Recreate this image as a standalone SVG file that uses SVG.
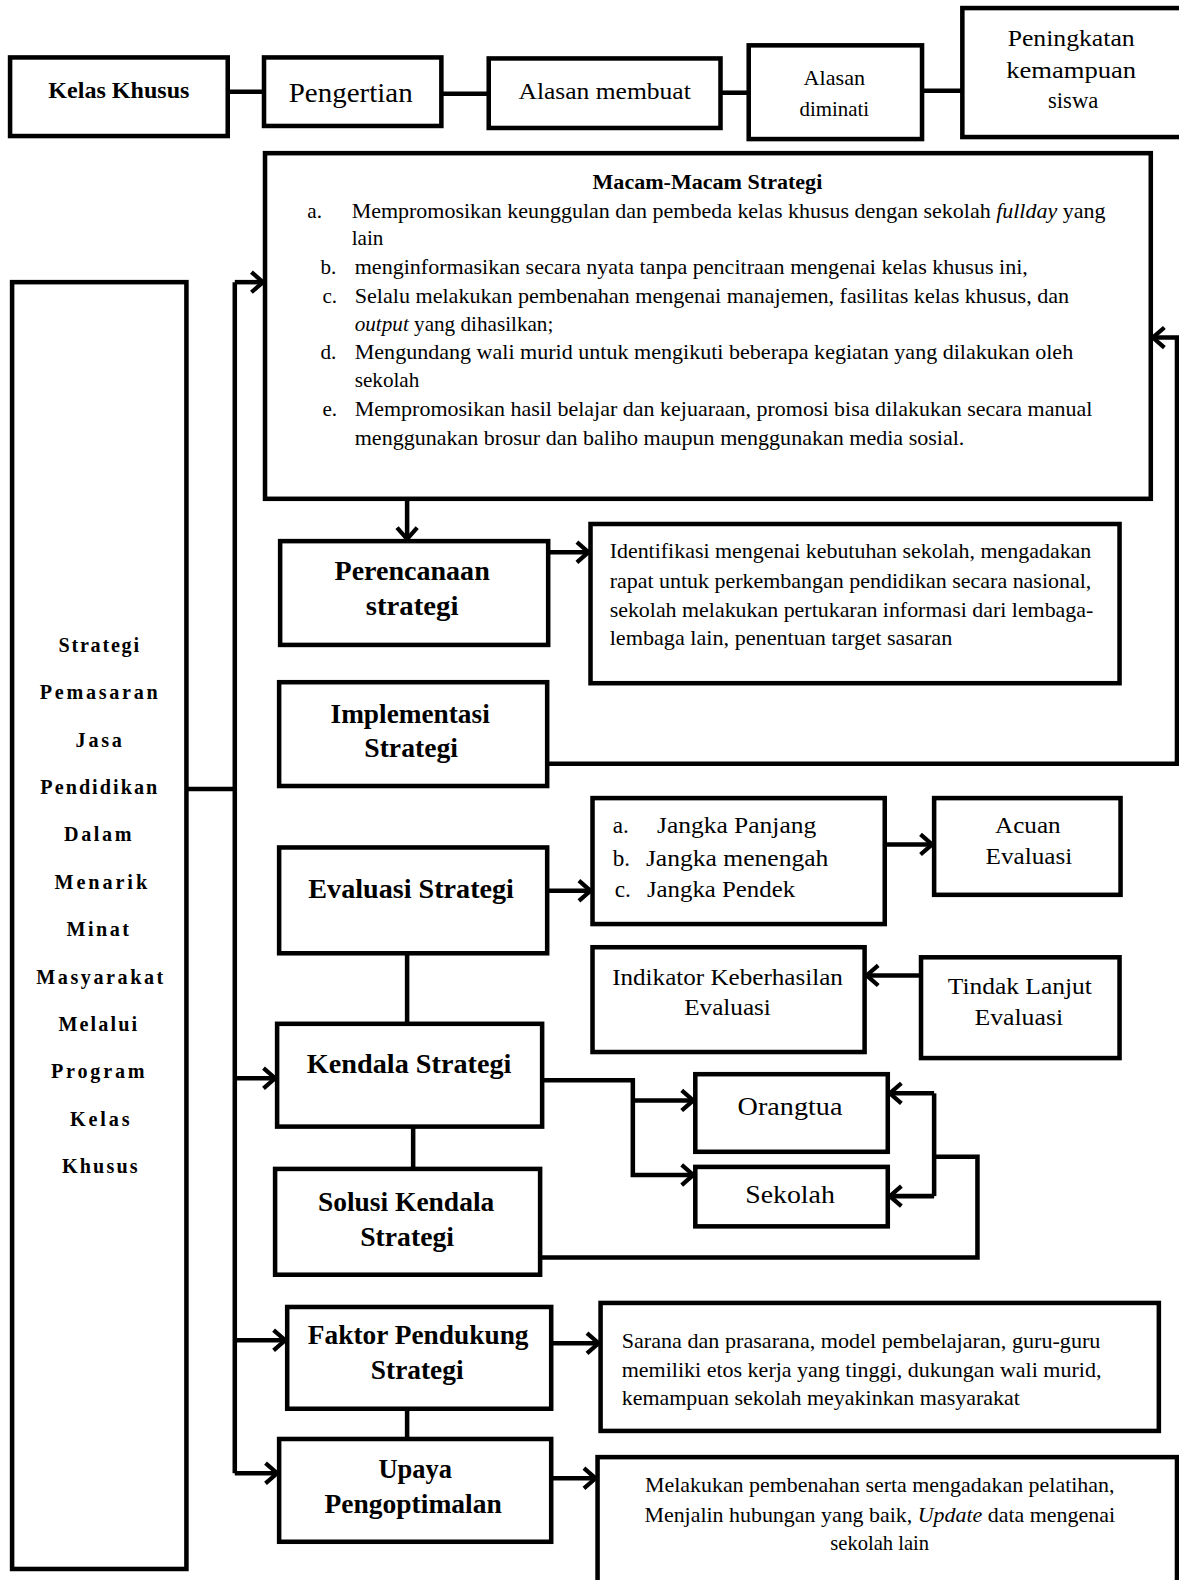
<svg xmlns="http://www.w3.org/2000/svg" width="1179" height="1580" viewBox="0 0 1179 1580">
<style>
.box{fill:#fff;stroke:#000;stroke-width:4.5}
.ln{fill:none;stroke:#000;stroke-width:4.5}
.t{font-family:"Liberation Serif","Times New Roman",serif;fill:#000}
.b{font-weight:bold}
.c{text-anchor:middle}
</style>
<defs>
<marker id="ah" markerWidth="18" markerHeight="24" refX="14" refY="12" orient="auto" markerUnits="userSpaceOnUse">
<path d="M2.5,2 L14,12 L2.5,22" fill="none" stroke="#000" stroke-width="4.2"/>
</marker>
</defs>
<rect width="1179" height="1580" fill="#fff"/>
<g transform="scale(1.00769)">
<g id="connectors">
<path class="ln" d="M226,91 H262"/>
<path class="ln" d="M438,93 H485"/>
<path class="ln" d="M715,92 H743"/>
<path class="ln" d="M915,90 H955"/>
<path class="ln" d="M185,783 H233"/>
<path class="ln" d="M233,1462 V280"/>
<path class="ln" d="M233,280 H261" marker-end="url(#ah)"/>
<path class="ln" d="M233,1070 H273" marker-end="url(#ah)"/>
<path class="ln" d="M233,1330 H283" marker-end="url(#ah)"/>
<path class="ln" d="M233,1462 H275" marker-end="url(#ah)"/>
<path class="ln" d="M404,495 V535" marker-end="url(#ah)"/>
<path class="ln" d="M544,548 H584" marker-end="url(#ah)"/>
<path class="ln" d="M543,758 H1168 V335 H1144" marker-end="url(#ah)"/>
<path class="ln" d="M543,884 H586" marker-end="url(#ah)"/>
<path class="ln" d="M878,838 H925" marker-end="url(#ah)"/>
<path class="ln" d="M914,968 H860" marker-end="url(#ah)"/>
<path class="ln" d="M404,946 V1016"/>
<path class="ln" d="M538,1072 H628 V1166 H688" marker-end="url(#ah)"/>
<path class="ln" d="M628,1092 H688" marker-end="url(#ah)"/>
<path class="ln" d="M410,1118 V1160"/>
<path class="ln" d="M536,1248 H970 V1148 H927"/>
<path class="ln" d="M927,1085 V1187"/>
<path class="ln" d="M927,1085 H883" marker-end="url(#ah)"/>
<path class="ln" d="M927,1187 H883" marker-end="url(#ah)"/>
<path class="ln" d="M547,1333 H594" marker-end="url(#ah)"/>
<path class="ln" d="M404,1398 V1428"/>
<path class="ln" d="M547,1467 H591" marker-end="url(#ah)"/>
</g>

<g id="kelas-khusus">
<rect class="box" x="10" y="57" width="216" height="78"/>
<text class="t b c" x="118" y="97" font-size="23" textLength="140" lengthAdjust="spacingAndGlyphs">Kelas Khusus</text>
</g>
<g id="pengertian">
<rect class="box" x="262" y="57" width="176" height="68"/>
<text class="t c" x="348" y="101" font-size="28" textLength="123" lengthAdjust="spacingAndGlyphs">Pengertian</text>
</g>
<g id="alasan-membuat">
<rect class="box" x="485" y="58" width="230" height="69"/>
<text class="t c" x="600" y="98" font-size="23" textLength="171" lengthAdjust="spacingAndGlyphs">Alasan membuat</text>
</g>
<g id="alasan-diminati">
<rect class="box" x="743" y="45" width="172" height="93"/>
<text class="t c" x="828" y="84" font-size="21" textLength="61" lengthAdjust="spacingAndGlyphs">Alasan</text>
<text class="t c" x="828" y="115" font-size="21" textLength="69" lengthAdjust="spacingAndGlyphs">diminati</text>
</g>
<g id="peningkatan">
<rect class="box" x="955" y="8" width="235" height="128"/>
<text class="t c" x="1063" y="46" font-size="23" textLength="126" lengthAdjust="spacingAndGlyphs">Peningkatan</text>
<text class="t c" x="1063" y="77" font-size="23" textLength="129" lengthAdjust="spacingAndGlyphs">kemampuan</text>
<text class="t c" x="1065" y="107" font-size="23" textLength="50" lengthAdjust="spacingAndGlyphs">siswa</text>
</g>

<g id="macam-strategi">
<rect class="box" x="263" y="152" width="879" height="343"/>
<text class="t b c" x="702" y="188" font-size="21" textLength="228" lengthAdjust="spacingAndGlyphs">Macam-Macam Strategi</text>
<g class="t" font-size="21">
<text x="305" y="216">a.</text>
<text x="349" y="216" textLength="748" lengthAdjust="spacingAndGlyphs">Mempromosikan keunggulan dan pembeda kelas khusus dengan sekolah <tspan font-style="italic">fullday</tspan> yang</text>
<text x="349" y="243">lain</text>
<text x="318" y="272">b.</text>
<text x="352" y="272" textLength="668" lengthAdjust="spacingAndGlyphs">menginformasikan secara nyata tanpa pencitraan mengenai kelas khusus ini,</text>
<text x="320" y="301">c.</text>
<text x="352" y="301" textLength="709" lengthAdjust="spacingAndGlyphs">Selalu melakukan pembenahan mengenai manajemen, fasilitas kelas khusus, dan</text>
<text x="352" y="328"><tspan font-style="italic">output</tspan> yang dihasilkan;</text>
<text x="318" y="356">d.</text>
<text x="352" y="356" textLength="713" lengthAdjust="spacingAndGlyphs">Mengundang wali murid untuk mengikuti beberapa kegiatan yang dilakukan oleh</text>
<text x="352" y="384">sekolah</text>
<text x="320" y="413">e.</text>
<text x="352" y="413" textLength="732" lengthAdjust="spacingAndGlyphs">Mempromosikan hasil belajar dan kejuaraan, promosi bisa dilakukan secara manual</text>
<text x="352" y="442" textLength="605" lengthAdjust="spacingAndGlyphs">menggunakan brosur dan baliho maupun menggunakan media sosial.</text>
</g>
</g>

<g id="strategi-pemasaran">
<rect class="box" x="12" y="280" width="173" height="1277"/>
<g class="t b c" font-size="20">
<text x="98" y="647" textLength="80" lengthAdjust="spacing">Strategi</text>
<text x="98" y="694" textLength="117" lengthAdjust="spacing">Pemasaran</text>
<text x="98" y="741" textLength="46" lengthAdjust="spacing">Jasa</text>
<text x="98" y="788" textLength="116" lengthAdjust="spacing">Pendidikan</text>
<text x="97" y="835" textLength="67" lengthAdjust="spacing">Dalam</text>
<text x="100" y="882" textLength="92" lengthAdjust="spacing">Menarik</text>
<text x="97" y="929" textLength="62" lengthAdjust="spacing">Minat</text>
<text x="99" y="976" textLength="126" lengthAdjust="spacing">Masyarakat</text>
<text x="97" y="1023" textLength="78" lengthAdjust="spacing">Melalui</text>
<text x="97" y="1070" textLength="93" lengthAdjust="spacing">Program</text>
<text x="99" y="1117" textLength="59" lengthAdjust="spacing">Kelas</text>
<text x="99" y="1164" textLength="75" lengthAdjust="spacing">Khusus</text>
</g>
</g>

<g id="perencanaan">
<rect class="box" x="278" y="537" width="266" height="103"/>
<text class="t b c" x="409" y="576" font-size="28" textLength="154" lengthAdjust="spacingAndGlyphs">Perencanaan</text>
<text class="t b c" x="409" y="610" font-size="28" textLength="92" lengthAdjust="spacingAndGlyphs">strategi</text>
</g>
<g id="identifikasi">
<rect class="box" x="586" y="520" width="525" height="158"/>
<g class="t" font-size="21">
<text x="605" y="554" textLength="478" lengthAdjust="spacingAndGlyphs">Identifikasi mengenai kebutuhan sekolah, mengadakan</text>
<text x="605" y="584" textLength="478" lengthAdjust="spacingAndGlyphs">rapat untuk perkembangan pendidikan secara nasional,</text>
<text x="605" y="612" textLength="480" lengthAdjust="spacingAndGlyphs">sekolah melakukan pertukaran informasi dari lembaga-</text>
<text x="605" y="640" textLength="340" lengthAdjust="spacingAndGlyphs">lembaga lain, penentuan target sasaran</text>
</g>
</g>
<g id="implementasi">
<rect class="box" x="277" y="677" width="266" height="103"/>
<text class="t b c" x="407" y="717" font-size="28" textLength="158" lengthAdjust="spacingAndGlyphs">Implementasi</text>
<text class="t b c" x="408" y="751" font-size="28" textLength="93" lengthAdjust="spacingAndGlyphs">Strategi</text>
</g>
<g id="evaluasi">
<rect class="box" x="277" y="841" width="266" height="105"/>
<text class="t b c" x="408" y="891" font-size="28" textLength="204" lengthAdjust="spacingAndGlyphs">Evaluasi Strategi</text>
</g>
<g id="jangka">
<rect class="box" x="588" y="792" width="290" height="125"/>
<g class="t" font-size="23">
<text x="608" y="827">a.</text>
<text x="652" y="827" textLength="158" lengthAdjust="spacingAndGlyphs">Jangka Panjang</text>
<text x="608" y="859">b.</text>
<text x="641" y="859" textLength="181" lengthAdjust="spacingAndGlyphs">Jangka menengah</text>
<text x="610" y="890">c.</text>
<text x="642" y="890" textLength="147" lengthAdjust="spacingAndGlyphs">Jangka Pendek</text>
</g>
</g>
<g id="acuan">
<rect class="box" x="927" y="792" width="185" height="96"/>
<text class="t c" x="1020" y="827" font-size="23" textLength="65" lengthAdjust="spacingAndGlyphs">Acuan</text>
<text class="t c" x="1021" y="857" font-size="23" textLength="86" lengthAdjust="spacingAndGlyphs">Evaluasi</text>
</g>
<g id="indikator">
<rect class="box" x="588" y="940" width="270" height="104"/>
<text class="t c" x="722" y="977" font-size="23" textLength="229" lengthAdjust="spacingAndGlyphs">Indikator Keberhasilan</text>
<text class="t c" x="722" y="1007" font-size="23" textLength="86" lengthAdjust="spacingAndGlyphs">Evaluasi</text>
</g>
<g id="tindak-lanjut">
<rect class="box" x="914" y="950" width="197" height="100"/>
<text class="t c" x="1012" y="986" font-size="23" textLength="143" lengthAdjust="spacingAndGlyphs">Tindak Lanjut</text>
<text class="t c" x="1011" y="1017" font-size="23" textLength="88" lengthAdjust="spacingAndGlyphs">Evaluasi</text>
</g>
<g id="kendala">
<rect class="box" x="275" y="1016" width="263" height="102"/>
<text class="t b c" x="406" y="1065" font-size="28" textLength="203" lengthAdjust="spacingAndGlyphs">Kendala Strategi</text>
</g>
<g id="orangtua">
<rect class="box" x="690" y="1066" width="191" height="77"/>
<text class="t c" x="784" y="1106" font-size="26" textLength="104" lengthAdjust="spacingAndGlyphs">Orangtua</text>
</g>
<g id="sekolah">
<rect class="box" x="690" y="1158" width="191" height="59"/>
<text class="t c" x="784" y="1194" font-size="26" textLength="89" lengthAdjust="spacingAndGlyphs">Sekolah</text>
</g>
<g id="solusi">
<rect class="box" x="273" y="1160" width="263" height="105"/>
<text class="t b c" x="403" y="1202" font-size="28" textLength="175" lengthAdjust="spacingAndGlyphs">Solusi Kendala</text>
<text class="t b c" x="404" y="1236" font-size="28" textLength="93" lengthAdjust="spacingAndGlyphs">Strategi</text>
</g>
<g id="faktor">
<rect class="box" x="285" y="1297" width="262" height="101"/>
<text class="t b c" x="415" y="1334" font-size="28" textLength="219" lengthAdjust="spacingAndGlyphs">Faktor Pendukung</text>
<text class="t b c" x="414" y="1368" font-size="28" textLength="92" lengthAdjust="spacingAndGlyphs">Strategi</text>
</g>
<g id="sarana">
<rect class="box" x="596" y="1293" width="554" height="127"/>
<g class="t" font-size="21">
<text x="617" y="1338" textLength="475" lengthAdjust="spacingAndGlyphs">Sarana dan prasarana, model pembelajaran, guru-guru</text>
<text x="617" y="1366" textLength="476" lengthAdjust="spacingAndGlyphs">memiliki etos kerja yang tinggi, dukungan wali murid,</text>
<text x="617" y="1394" textLength="395" lengthAdjust="spacingAndGlyphs">kemampuan sekolah meyakinkan masyarakat</text>
</g>
</g>
<g id="upaya">
<rect class="box" x="277" y="1428" width="270" height="102"/>
<text class="t b c" x="412" y="1467" font-size="28" textLength="73" lengthAdjust="spacingAndGlyphs">Upaya</text>
<text class="t b c" x="410" y="1501" font-size="28" textLength="176" lengthAdjust="spacingAndGlyphs">Pengoptimalan</text>
</g>
<g id="melakukan">
<rect class="box" x="593" y="1446" width="575" height="130"/>
<g class="t c" font-size="21">
<text x="873" y="1481" textLength="466" lengthAdjust="spacingAndGlyphs">Melakukan pembenahan serta mengadakan pelatihan,</text>
<text x="873" y="1510" textLength="467" lengthAdjust="spacingAndGlyphs">Menjalin hubungan yang baik, <tspan font-style="italic">Update</tspan> data mengenai</text>
<text x="873" y="1538" textLength="98" lengthAdjust="spacingAndGlyphs">sekolah lain</text>
</g>
</g>
</g>
</svg>
